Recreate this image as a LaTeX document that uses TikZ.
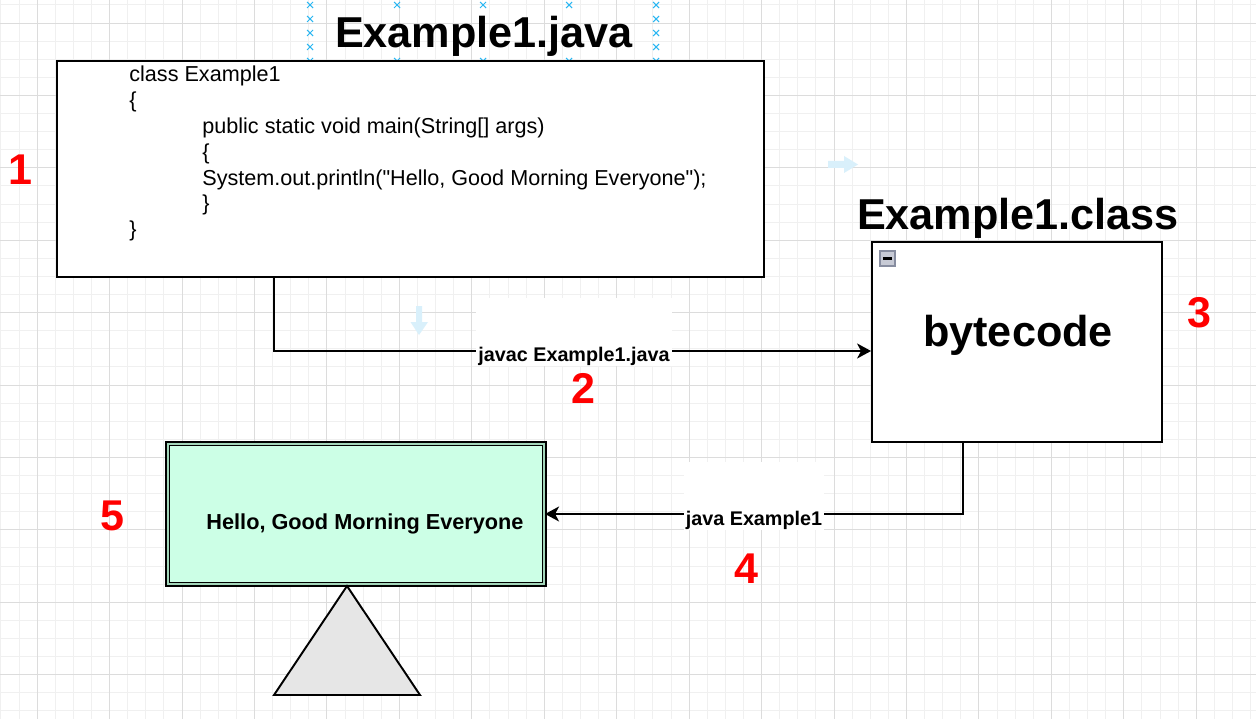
\documentclass[tikz,border=0pt]{standalone}
\usepackage{fontspec}
\setmainfont{Liberation Sans}
\newfontfamily\codefont{Liberation Sans}[Ligatures=TeXOff]
\usetikzlibrary{arrows.meta}
\definecolor{mint}{HTML}{CCFFE6}
\definecolor{mintdark}{HTML}{A3D6BA}
\definecolor{handleblue}{HTML}{29B6F2}
\definecolor{hoverblue}{HTML}{D9F0FB}
\definecolor{gridlight}{HTML}{F0F0F0}
\definecolor{gridgray}{HTML}{DCDCDC}
\definecolor{trigray}{HTML}{E6E6E6}
\definecolor{iconfill}{HTML}{C7CAD5}
\definecolor{iconedge}{HTML}{878DA0}

\begin{document}
\begin{tikzpicture}[x=0.02cm,y=-0.02cm]
		\tikzset{fine/.style = {gridlight, line width=0.5pt}}
		\tikzset{coarse/.style = {gridgray, line width=0.5pt}}
		\tikzset{box/.style = {draw, line width=1.1pt, fill=white, inner sep=0}}
		\tikzset{code/.style = {anchor=base west, inner sep=0, font=\codefont\fontsize{12.3}{14}\selectfont}}
		\tikzset{title/.style = {anchor=base, inner sep=0, font=\fontsize{24.6}{29}\selectfont\bfseries}}
		\tikzset{num/.style = {anchor=base, inner sep=0, text=red, font=\fontsize{24.5}{29}\selectfont\bfseries}}
		\tikzset{lbl/.style = {anchor=base, fill=white, inner xsep=0.04cm, inner ysep=0, text height=1.27cm, text depth=0.09cm, font=\fontsize{11.25}{13}\selectfont\bfseries}}
		\tikzset{edge/.style = {-{Stealth[length=0.28cm,width=0.3cm,inset=0.08cm]}, line width=1.1pt}}
		\tikzset{handle/.style = {handleblue, line width=0.6pt}}
		
		% background grid
		\useasboundingbox (0,0) rectangle (1256,719);
		\fill[white] (0,0) rectangle (1256,719);
		\foreach \i in {0,...,69} \draw[fine] ({0.9+18.11*\i},0) -- ({0.9+18.11*\i},719);
		\foreach \i in {0,...,39} \draw[fine] (0,{4.9+18.1*\i}) -- (1256,{4.9+18.1*\i});
		\foreach \i in {0,...,16} \draw[coarse] ({37.1+72.44*\i},0) -- ({37.1+72.44*\i},719);
		\foreach \i in {0,...,9} \draw[coarse] (0,{23+72.4*\i}) -- (1256,{23+72.4*\i});
		
		% hover arrows
		\fill[hoverblue] (828,161) -- (844,161) -- (844,156) -- (858,164.5) -- (844,173) -- (844,168) -- (828,168) -- cycle;
		\fill[hoverblue] (416,306) -- (422,306) -- (422,322) -- (428,322) -- (419,335) -- (410.5,322) -- (416,322) -- cycle;
		
		% source file
		\node[title] (7) at (484,48) {Example1.java};
		\foreach \x in {310,397,483,569,656} {
			\draw[handle] (\x-3,2) -- (\x+3,8) (\x-3,8) -- (\x+3,2);
			\draw[handle] (\x-3,58) -- (\x+3,64) (\x-3,64) -- (\x+3,58);
		}
		\foreach \x in {310,656} \foreach \y in {19,33,47} {
			\draw[handle] (\x-3,\y-3) -- (\x+3,\y+3) (\x-3,\y+3) -- (\x+3,\y-3);
		}
		\node[box, minimum width=14.14cm, minimum height=4.32cm] (1) at (410.5,169) {};
		\node[code] (l1) at (129,82) {class Example1};
		\node[code] (l2) at (129,107.8) {\{};
		\node[code] (l3) at (202,133.6) {public static void main(String[] args)};
		\node[code] (l4) at (202,159.4) {\{};
		\node[code] (l5) at (202,185.2) {System.out.println("Hello, Good Morning Everyone");};
		\node[code] (l6) at (202,211) {\}};
		\node[code] (l7) at (129,236.8) {\}};
		
		% class file
		\node[title] (8) at (1018,230) {Example1.class};
		\node[box, minimum width=5.8cm, minimum height=4cm] (3) at (1017,342) {};
		\node[draw=iconedge, fill=iconfill, line width=0.6pt, minimum size=0.3cm, inner sep=0] (9) at (887.5,258.5) {};
		\draw[line width=1.4pt] ([xshift=0.07cm]9.west) -- ([xshift=-0.07cm]9.east);
		\node[title] (12) at (1018,346) {bytecode};
		
		% output
		\node[draw, line width=0.7pt, double=mintdark, double distance=0.04cm, fill=mint, minimum width=7.54cm, minimum height=2.82cm, inner sep=0] (5) at (356,514) {};
		\node[anchor=base, inner sep=0, font=\fontsize{12.35}{14}\selectfont\bfseries] (10) at (365,529) {Hello, Good Morning Everyone};
		\coordinate (6) at (347,586);
		\draw[line width=1.1pt, fill=trigray] (6) -- (420,695) -- (274,695) -- cycle;
		
		% steps
		\coordinate (c1) at (274,351);
		\coordinate (c2) at (963,514);
		\draw[edge] (1.south -| c1) -- (c1) -- (c1 -| 3.west);
		\draw[edge] (3.south -| c2) -- (c2) -- (c2 -| 5.east);
		\node[lbl] (2) at (574,361) {javac Example1.java};
		\node[lbl] (4) at (754,525) {java Example1};
		
		\node[num] (n1) at (20,185) {1};
		\node[num] (n2) at (583,403) {2};
		\node[num] (n3) at (1199,327) {3};
		\node[num] (n4) at (746,583) {4};
		\node[num] (n5) at (112,530) {5};
		\end{tikzpicture}
\end{document}
